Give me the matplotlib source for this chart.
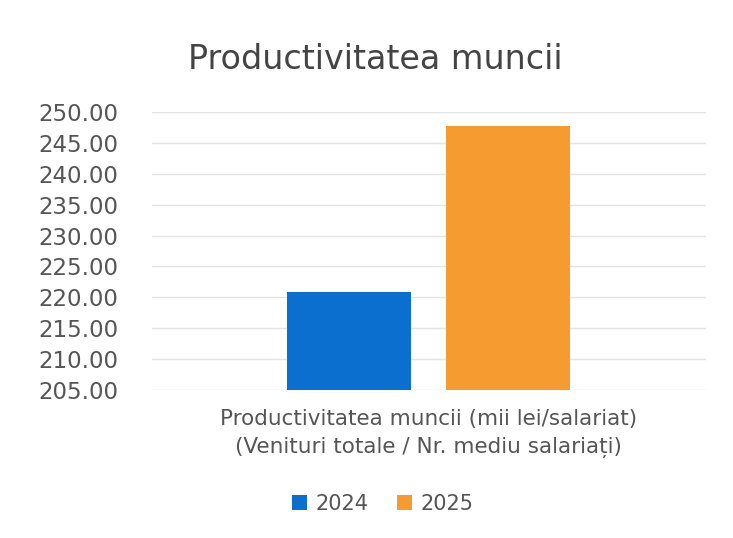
import matplotlib.pyplot as plt

years = ["2024", "2025"]
values = [220.8, 247.8]
colors = ["#0B6FD0", "#F59B30"]
yticks = [205, 210, 215, 220, 225, 230, 235, 240, 245, 250]
category = "Productivitatea muncii (mii lei/salariat)\n(Venituri totale / Nr. mediu salariați)"

plt.rcParams['font.family'] = ['DejaVu Sans']

fig = plt.figure(figsize=(7.33, 5.38), dpi=100)
ax = fig.add_axes([0.207, 0.275, 0.756, 0.517])

width = 0.224
offsets = [-0.1435, 0.1435]
for yr, v, c, off in zip(years, values, colors, offsets):
    ax.bar(off, v - 205, bottom=205, width=width, color=c, label=yr, zorder=3)

ax.set_xlim(-0.5, 0.5)
ax.set_ylim(205, 250)
ax.set_yticks(yticks)
ax.set_yticklabels([f"{t:.2f}" for t in yticks], fontsize=16.5, color="#555555")
ax.set_xticks([0])
ax.set_xticklabels([category], fontsize=15.5, color="#555555", linespacing=1.45)
ax.tick_params(axis='both', length=0)
ax.tick_params(axis='y', pad=24)
ax.tick_params(axis='x', pad=14)
ax.grid(axis='y', color="#e4e4e4", linewidth=1, zorder=0)
for s in ax.spines.values():
    s.set_visible(False)

fig.text(0.512, 0.89, "Productivitatea muncii", ha='center', va='center',
         fontsize=24, color="#444444")

fig.legend(loc='center', bbox_to_anchor=(0.522, 0.064), ncol=2, frameon=False,
           fontsize=15, handlelength=0.7, handleheight=0.7, handletextpad=0.4,
           columnspacing=1.4, labelcolor="#555555")

fig.savefig("out.png", dpi=100, facecolor="white")
